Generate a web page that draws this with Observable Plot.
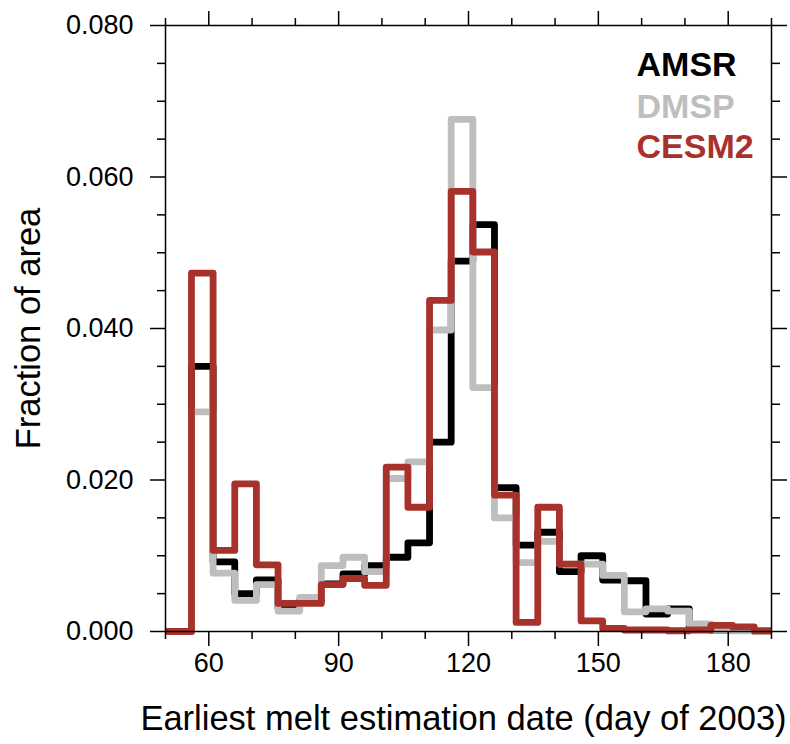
<!DOCTYPE html>
<html><head><meta charset="utf-8">
<script src="https://cdn.jsdelivr.net/npm/d3@7"></script>
<script src="https://cdn.jsdelivr.net/npm/@observablehq/plot@0.6"></script>
<style>body{margin:0;background:#fff} svg{display:block}</style>
</head><body><div id="chart"></div>
<script>
// Bin left edges (days); first bin clipped at the axis start (50), last bin ends at 190
const binStart = [50,51,56,61,66,71,76,81,86,91,96,101,106,111,116,121,126,131,136,141,146,151,156,161,166,171,176,181,186];
const binEnd = 190;
const amsr  = [0,0,0.0350,0.0092,0.0050,0.0068,0.0031,0.0041,0.0063,0.0076,0.0087,0.0098,0.0117,0.0250,0.0489,0.0537,0.0190,0.0114,0.0131,0.0079,0.0100,0.0068,0.0067,0.0023,0.0030,0.0005,0.0002,0.0002,0.0000];
const dmsp  = [0,0,0.0290,0.0077,0.0041,0.0062,0.0027,0.0045,0.0087,0.0098,0.0079,0.0202,0.0224,0.0398,0.0676,0.0322,0.0150,0.0091,0.0119,0.0089,0.0089,0.0074,0.0026,0.0030,0.0027,0.0010,0.0002,0.0001,0.0000];
const cesm2 = [0,0,0.0473,0.0107,0.0195,0.0088,0.0037,0.0037,0.0062,0.0070,0.0061,0.0217,0.0164,0.0437,0.0581,0.0501,0.0180,0.0012,0.0164,0.0089,0.0014,0.0004,0.0002,0.0002,0.0001,0.0002,0.0008,0.0006,0.0001];
const seriesNames  = ["AMSR", "DMSP", "CESM2"];
const seriesColors = ["#000000", "#bebebe", "#a8322b"];
const xMajorTicks = [60, 90, 120, 150, 180];
const xMinorTicks = [50, 70, 80, 100, 110, 130, 140, 160, 170, 190];
const yMajorTicks = [0, 0.02, 0.04, 0.06, 0.08];
const yMinorTicks = [0.005,0.01,0.015,0.025,0.03,0.035,0.045,0.05,0.055,0.065,0.07,0.075];
const xLabel = "Earliest melt estimation date (day of 2003)";
const yLabel = "Fraction of area";

function steps(values) {
  const pts = binStart.map((x, i) => ({x, y: values[i]}));
  pts.push({x: binEnd, y: values[values.length - 1]});
  return pts;
}
const series = [amsr, dmsp, cesm2];
const blank = () => "";
const majorLen = 15, minorLen = 8, axisW = 1.5;

const lineMarks = series.map((s, i) => Plot.line(steps(s), {
  x: "x", y: "y", curve: "step-after", stroke: seriesColors[i],
  strokeWidth: 6.8, strokeLinejoin: "round", strokeLinecap: "butt"
}));
const legendDy = [40, 82, 122];
const legendMarks = seriesNames.map((n, i) => Plot.text([n], {
  text: d => d, frameAnchor: "top-right", dx: -135, dy: legendDy[i],
  textAnchor: "start", lineAnchor: "middle", fill: seriesColors[i],
  fontSize: 34, fontWeight: "bold"
}));

const chart = Plot.plot({
  width: 790, height: 744,
  marginLeft: 165, marginRight: 19, marginTop: 25, marginBottom: 113,
  style: {fontFamily: "'Liberation Sans', Arial, Helvetica, sans-serif", background: "white", color: "black"},
  x: {domain: [50, 190]},
  y: {domain: [0, 0.08]},
  marks: [
    ...lineMarks,
    Plot.frame({stroke: "black", strokeWidth: axisW}),
    Plot.axisX(xMajorTicks, {anchor: "bottom", tickSize: majorLen, tickPadding: 6, fontSize: 27, label: null, strokeWidth: axisW}),
    Plot.axisX(xMinorTicks, {anchor: "bottom", tickSize: minorLen, tickFormat: blank, label: null, strokeWidth: axisW}),
    Plot.axisX(xMajorTicks, {anchor: "top", tickSize: majorLen, tickFormat: blank, label: null, strokeWidth: axisW}),
    Plot.axisX(xMinorTicks, {anchor: "top", tickSize: minorLen, tickFormat: blank, label: null, strokeWidth: axisW}),
    Plot.axisY(yMajorTicks, {anchor: "left", tickSize: majorLen, tickPadding: 17, tickFormat: d3.format(".3f"), fontSize: 27, label: null, strokeWidth: axisW}),
    Plot.axisY(yMinorTicks, {anchor: "left", tickSize: minorLen, tickFormat: blank, label: null, strokeWidth: axisW}),
    Plot.axisY(yMajorTicks, {anchor: "right", tickSize: majorLen, tickFormat: blank, label: null, strokeWidth: axisW}),
    Plot.axisY(yMinorTicks, {anchor: "right", tickSize: minorLen, tickFormat: blank, label: null, strokeWidth: axisW}),
    Plot.text([xLabel], {text: d => d, frameAnchor: "bottom", dx: -5, dy: 87, fontSize: 34.5, textAnchor: "middle", lineAnchor: "middle"}),
    Plot.text([yLabel], {text: d => d, frameAnchor: "left", dx: -137, rotate: -90, fontSize: 34.5, textAnchor: "middle", lineAnchor: "middle"}),
    ...legendMarks
  ]
});
document.getElementById("chart").appendChild(chart);
</script>
</body></html>
